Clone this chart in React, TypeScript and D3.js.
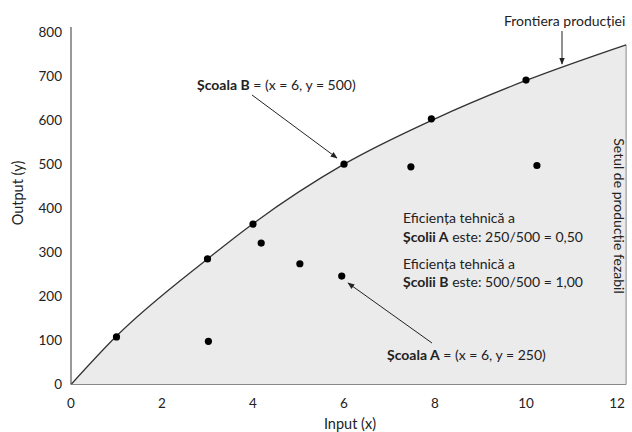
import React from "react";
import * as d3 from "d3";

const frontierX = [0, 1, 3, 4, 6, 8, 10, 12.2];
const frontierY = [0, 110, 285, 365, 500, 603, 690, 771];
const pointX = [1, 3, 3.02, 4, 4.18, 5.03, 6, 5.95, 7.47, 7.92, 10, 10.24];
const pointY = [108, 285, 98, 364, 321, 274, 500, 246, 494, 603, 691, 497];
const xTicks = [0, 2, 4, 6, 8, 10, 12];
const yTicks = [0, 100, 200, 300, 400, 500, 600, 700, 800];

const FONT = "Lato, 'Open Sans', sans-serif";
const AF = 14;

export default function App() {
  const W = 632, H = 432;
  const x = d3.scaleLinear().domain([0, 12]).range([71, 617]);
  const y = d3.scaleLinear().domain([0, 800]).range([384.5, 32]);
  const xMax = 12.2;
  const frontier = frontierX.map((v, i) => [v, frontierY[i]] as [number, number]);
  const line = d3.line<[number, number]>().x(d => x(d[0])).y(d => y(d[1])).curve(d3.curveMonotoneX);
  const area = d3.area<[number, number]>().x(d => x(d[0])).y0(y(0)).y1(d => y(d[1])).curve(d3.curveMonotoneX);
  const pts = pointX.map((v, i) => [v, pointY[i]] as [number, number]);
  return (
    <svg width={W} height={H} style={{ position: "absolute", left: 0, top: 0, fontFamily: FONT }}>
      <defs>
        <marker id="ah" viewBox="0 0 10 10" refX="9" refY="5" markerWidth="7" markerHeight="7" orient="auto">
          <path d="M0,1 L10,5 L0,9 z" fill="#222" />
        </marker>
      </defs>
      <path d={area(frontier) || ""} fill="#ebebeb" />
      <line x1={x(xMax)} x2={x(xMax)} y1={y(771)} y2={y(0)} stroke="#888" strokeWidth={1} />
      <path d={line(frontier) || ""} fill="none" stroke="#333" strokeWidth={1.3} />
      <line x1={x(0)} x2={x(xMax)} y1={y(0)} y2={y(0)} stroke="#888" strokeWidth={1.2} />
      <line x1={x(0)} x2={x(0)} y1={y(0)} y2={27} stroke="#555" strokeWidth={1.2} />
      {yTicks.map(t => (
        <text key={"y" + t} x={62} y={y(t)} dy="0.36em" textAnchor="end" fontSize={13.5} fill="#222">{t}</text>
      ))}
      {xTicks.map(t => (
        <text key={"x" + t} x={x(t)} y={408} textAnchor="middle" fontSize={13.5} fill="#222">{t}</text>
      ))}
      <text x={350} y={429} textAnchor="middle" fontSize={14.5} fill="#222">Input (x)</text>
      <text transform="translate(23,193) rotate(-90)" textAnchor="middle" fontSize={14.5} fill="#222">Output (y)</text>
      {pts.map((p, i) => (
        <circle key={i} cx={x(p[0])} cy={y(p[1])} r={3.6} fill="#000" />
      ))}
      <text x={504} y={26} fontSize={AF} fill="#222">Frontiera producției</text>
      <line x1={562} y1={31} x2={562} y2={64} stroke="#222" strokeWidth={1} markerEnd="url(#ah)" />
      <text x={197} y={90} fontSize={AF} fill="#222"><tspan fontWeight="bold">Școala B</tspan> = (x = 6, y = 500)</text>
      <line x1={252} y1={95} x2={337} y2={158} stroke="#222" strokeWidth={1} markerEnd="url(#ah)" />
      <text x={387} y={360} fontSize={AF} fill="#222"><tspan fontWeight="bold">Școala A</tspan> = (x = 6, y = 250)</text>
      <line x1={432} y1={343} x2={348} y2={283} stroke="#222" strokeWidth={1} markerEnd="url(#ah)" />
      <text x={403} y={223} fontSize={AF} fill="#222">Eficiența tehnică a</text>
      <text x={403} y={242} fontSize={AF} fill="#222"><tspan fontWeight="bold">Școlii A</tspan> este: 250/500 = 0,50</text>
      <text x={403} y={269} fontSize={AF} fill="#222">Eficiența tehnică a</text>
      <text x={403} y={287} fontSize={AF} fill="#222"><tspan fontWeight="bold">Școlii B</tspan> este: 500/500 = 1,00</text>
      <text transform="translate(614,216) rotate(90)" textAnchor="middle" fontSize={AF} fill="#222">Setul de producție fezabil</text>
    </svg>
  );
}
